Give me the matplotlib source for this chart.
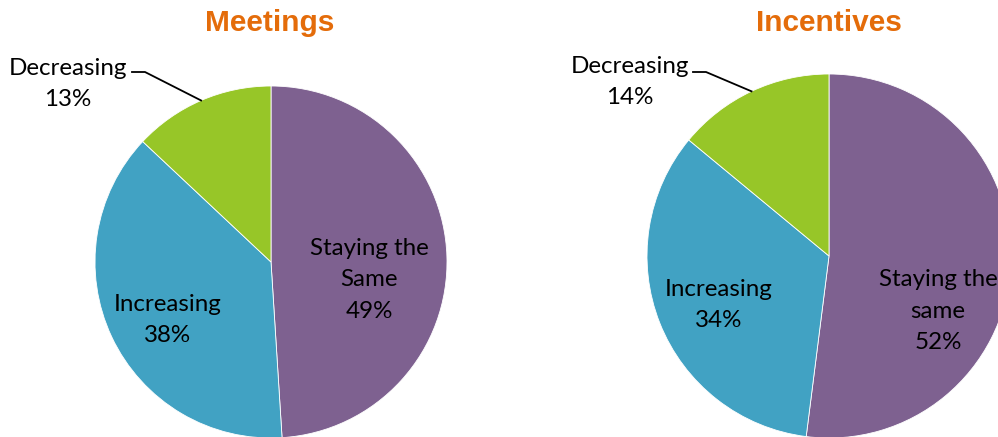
import numpy as np
import matplotlib
matplotlib.use("Agg")
import matplotlib.pyplot as plt

W, H = 998, 437

# chart data
titles = ["Meetings", "Incentives"]
categories = [["Staying the\nSame", "Increasing", "Decreasing"],
              ["Staying the\nsame", "Increasing", "Decreasing"]]
shares = [[49, 38, 13],
          [52, 34, 14]]
colors = ["#7E6190", "#41A2C3", "#97C628"]

# layout in pixels (x, y from top-left)
centers = [(271, 262), (829, 256)]
radii = [176, 182]
title_pos = [(270, 23), (829, 23)]
label_pos = [[(369, 280), (168, 320), (68, 84)],
             [(938, 311), (719, 305), (630, 82)]]
leader_start = [(132, 72), (693, 72)]

fig = plt.figure(figsize=(W / 100, H / 100), dpi=100)
ax = fig.add_axes([0, 0, 1, 1])

for i in range(2):
    cx, cy = centers[i]
    wedges, _ = ax.pie(shares[i], colors=colors, startangle=90, counterclock=False,
                       radius=radii[i], center=(cx, H - cy), frame=True,
                       wedgeprops=dict(edgecolor="white", linewidth=0.6))

    ax.text(title_pos[i][0], H - title_pos[i][1], titles[i], ha="center", va="center",
            fontsize=21.5, fontweight="bold", color="#E46C0A", family="Liberation Sans")

    for j, (name, val) in enumerate(zip(categories[i], shares[i])):
        lx, ly = label_pos[i][j]
        ax.text(lx, H - ly, f"{name}\n{val}%", ha="center", va="center",
                fontsize=17.4, family="Lato", linespacing=1.62, color="black")

    # leader line for the small slice
    w = wedges[2]
    mid = np.deg2rad((w.theta1 + w.theta2) / 2)
    ex = cx + radii[i] * np.cos(mid)
    ey = H - cy + radii[i] * np.sin(mid)
    sx, sy = leader_start[i]
    ax.plot([sx, sx + 13, ex], [H - sy, H - sy, ey], color="black", lw=1.3)

ax.set_xlim(0, W)
ax.set_ylim(0, H)
ax.set_aspect("equal")
ax.axis("off")

plt.savefig("out.png", dpi=100)
